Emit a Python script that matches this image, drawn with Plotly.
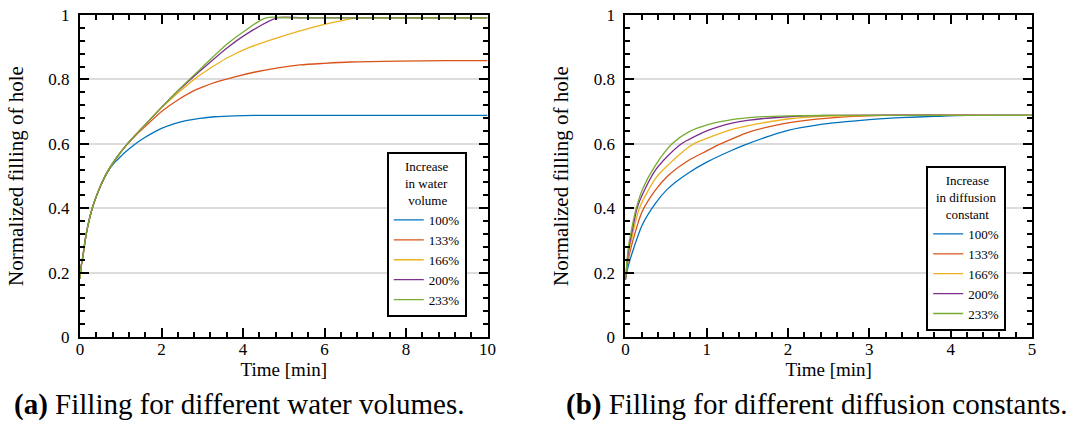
import plotly.graph_objects as go

# ---------------- data ----------------
labels = ["100%", "133%", "166%", "200%", "233%"]
colors = ["#0072BD", "#D95319", "#EDB120", "#7E2F8E", "#77AC30"]

# (a) different water volumes, time in minutes
a_100_t = [0, 0.03, 0.07, 0.15, 0.3, 0.46, 0.6, 0.7, 0.8, 0.93, 1.1, 1.34, 1.57, 1.83, 2.0, 2.32, 2.6, 2.94, 3.3, 3.8, 4.3, 5, 10]
a_100_v = [0.182, 0.22, 0.25, 0.318, 0.40, 0.456, 0.494, 0.517, 0.535, 0.552, 0.573, 0.598, 0.618, 0.637, 0.648, 0.663, 0.672, 0.679, 0.684, 0.687, 0.688, 0.688, 0.688]

a_133_t = [0, 0.03, 0.07, 0.15, 0.3, 0.46, 0.65, 0.91, 1.16, 1.4, 1.67, 2.0, 2.4, 2.85, 3.3, 3.8, 4.3, 4.86, 5.4, 6.0, 6.63, 7.85, 9, 10]
a_133_v = [0.182, 0.22, 0.25, 0.318, 0.40, 0.456, 0.508, 0.559, 0.598, 0.630, 0.662, 0.700, 0.736, 0.768, 0.790, 0.808, 0.823, 0.836, 0.845, 0.850, 0.854, 0.857, 0.858, 0.858]

a_166_t = [0, 0.03, 0.07, 0.15, 0.3, 0.46, 0.65, 0.91, 1.16, 1.59, 2.0, 2.4, 2.77, 2.94, 3.3, 3.63, 4.17, 4.86, 5.4, 6.0, 6.4, 6.79, 7.5, 10]
a_166_v = [0.182, 0.22, 0.25, 0.318, 0.40, 0.456, 0.508, 0.559, 0.600, 0.658, 0.712, 0.758, 0.797, 0.813, 0.843, 0.868, 0.900, 0.930, 0.951, 0.971, 0.982, 0.991, 0.991, 0.991]

a_200_t = [0, 0.03, 0.07, 0.15, 0.3, 0.46, 0.65, 0.91, 1.16, 1.59, 2.0, 2.4, 2.6, 3.0, 3.63, 4.2, 4.84, 5.5, 10]
a_200_v = [0.182, 0.22, 0.25, 0.318, 0.40, 0.456, 0.508, 0.559, 0.600, 0.658, 0.713, 0.764, 0.787, 0.832, 0.900, 0.950, 0.991, 0.991, 0.991]

a_233_t = [0, 0.03, 0.07, 0.15, 0.3, 0.46, 0.65, 0.91, 1.16, 1.59, 2.0, 2.4, 2.6, 3.0, 3.63, 4.1, 4.56, 5.2, 10]
a_233_v = [0.182, 0.22, 0.25, 0.318, 0.40, 0.456, 0.508, 0.559, 0.600, 0.658, 0.713, 0.765, 0.790, 0.838, 0.912, 0.956, 0.991, 0.991, 0.991]

# (b) different diffusion constants, time in minutes
b_100_t = [0, 0.02, 0.04, 0.082, 0.205, 0.369, 0.52, 0.779, 1.0, 1.31, 1.47, 2.0, 2.37, 3.0, 3.38, 3.8, 4.2, 5]
b_100_v = [0.178, 0.205, 0.225, 0.26, 0.347, 0.415, 0.460, 0.510, 0.543, 0.580, 0.597, 0.642, 0.659, 0.675, 0.681, 0.685, 0.688, 0.688]

b_133_t = [0, 0.02, 0.04, 0.082, 0.205, 0.369, 0.52, 0.779, 1.0, 1.13, 1.31, 1.5, 2.0, 2.5, 3.17, 5]
b_133_v = [0.178, 0.215, 0.245, 0.29, 0.389, 0.456, 0.500, 0.549, 0.578, 0.595, 0.615, 0.635, 0.665, 0.680, 0.688, 0.688]

b_166_t = [0, 0.02, 0.04, 0.082, 0.172, 0.369, 0.52, 0.779, 0.84, 1.0, 1.31, 1.5, 2.0, 2.5, 3.0, 5]
b_166_v = [0.178, 0.225, 0.26, 0.311, 0.40, 0.492, 0.533, 0.590, 0.600, 0.617, 0.645, 0.656, 0.677, 0.686, 0.688, 0.688]

b_200_t = [0, 0.02, 0.04, 0.082, 0.143, 0.205, 0.369, 0.52, 0.677, 0.779, 1.0, 1.31, 1.5, 2.0, 2.5, 5]
b_200_v = [0.178, 0.232, 0.272, 0.327, 0.40, 0.44, 0.518, 0.562, 0.598, 0.613, 0.640, 0.664, 0.673, 0.684, 0.688, 0.688]

b_233_t = [0, 0.02, 0.04, 0.082, 0.123, 0.205, 0.369, 0.574, 0.779, 1.025, 1.31, 1.6, 2.0, 2.5, 5]
b_233_v = [0.178, 0.24, 0.285, 0.342, 0.39, 0.456, 0.533, 0.600, 0.637, 0.660, 0.675, 0.683, 0.687, 0.688, 0.688]

a_series = [(a_100_t, a_100_v), (a_133_t, a_133_v), (a_166_t, a_166_v), (a_200_t, a_200_v), (a_233_t, a_233_v)]
b_series = [(b_100_t, b_100_v), (b_133_t, b_133_v), (b_166_t, b_166_v), (b_200_t, b_200_v), (b_233_t, b_233_v)]

FONT = "Liberation Serif"

fig = go.Figure()
for (t, v), lab, c in zip(a_series, labels, colors):
    fig.add_trace(go.Scatter(x=t, y=v, mode="lines", name=lab,
                             line=dict(color=c, width=1.3, shape="spline", smoothing=0.8),
                             xaxis="x", yaxis="y", legend="legend"))
for (t, v), lab, c in zip(b_series, labels, colors):
    fig.add_trace(go.Scatter(x=t, y=v, mode="lines", name=lab,
                             line=dict(color=c, width=1.3, shape="spline", smoothing=0.8),
                             xaxis="x2", yaxis="y2", legend="legend2"))

# plot-area geometry (pixels)
W, H = 1086.0, 427.0
L, R, T, B = 80.0, 1031.8, 14.5, 337.0
PW, PH = R - L, B - T

def px(x):
    return (x - L) / PW

def py(y):
    return (B - y) / PH

def xax(domain, rng, dtick, minor, anchor):
    return dict(domain=domain, range=rng, dtick=dtick, tick0=0, anchor=anchor, automargin=False,
                showline=True, linecolor="black", linewidth=2, mirror="allticks",
                ticks="inside", ticklen=9, tickwidth=2, tickcolor="black",
                minor=dict(ticks="inside", ticklen=5, tickwidth=2, tickcolor="black",
                           dtick=minor, tick0=0, showgrid=False),
                showgrid=False, zeroline=False, ticklabelstandoff=-4,
                tickfont=dict(family=FONT, size=17, color="black"),
                title=dict(text="Time [min]", font=dict(family=FONT, size=19, color="black"), standoff=0))

def yax(domain, anchor):
    return dict(domain=domain, range=[0, 1], dtick=0.2, tick0=0, anchor=anchor, automargin=False,
                showline=True, linecolor="black", linewidth=2, mirror="allticks",
                ticks="inside", ticklen=9, tickwidth=2, tickcolor="black",
                minor=dict(ticks="inside", ticklen=5, tickwidth=2, tickcolor="black",
                           dtick=0.04, tick0=0, showgrid=False),
                showgrid=True, gridcolor="#DCDCDC", gridwidth=2, zeroline=False,
                tickformat="~g", ticklabelstandoff=5,
                tickfont=dict(family=FONT, size=17, color="black"),
                title=dict(text="Normalized filling of hole", font=dict(family=FONT, size=21, color="black"),
                           standoff=19))

legend_common = dict(bgcolor="white", bordercolor="black", borderwidth=2,
                     font=dict(family=FONT, size=13, color="black"),
                     itemwidth=30, xanchor="left", yanchor="top", tracegroupgap=0)

fig.update_layout(
    width=1086, height=427,
    margin=dict(l=L, r=W - R, t=T, b=H - B, autoexpand=False),
    paper_bgcolor="white", plot_bgcolor="white",
    showlegend=True,
    xaxis=xax([0, px(487.5)], [0, 10], 2, 0.4, "y"),
    yaxis=yax([0, 1], "x"),
    xaxis2=xax([px(625.3), 1], [0, 5], 1, 0.2, "y2"),
    yaxis2=yax([0, 1], "x2"),
    legend=dict(legend_common, x=px(386.7), y=py(152),
                title=dict(text="Increase<br>in water<br>&nbsp;volume", side="top center",
                           font=dict(family=FONT, size=13, color="black"))),
    legend2=dict(legend_common, x=px(926), y=py(166),
                 title=dict(text="&nbsp;&nbsp;&nbsp;Increase<br>in diffusion<br>&nbsp;&nbsp;&nbsp;constant", side="top center",
                            font=dict(family=FONT, size=13, color="black"))),
    annotations=[
        dict(text="<b>(a)</b> Filling for different water volumes.", x=px(239), y=py(405),
             xref="paper", yref="paper", showarrow=False, xanchor="center", yanchor="middle",
             font=dict(family=FONT, size=29, color="black")),
        dict(text="<b>(b)</b> Filling for different diffusion constants.", x=px(817), y=py(405),
             xref="paper", yref="paper", showarrow=False, xanchor="center", yanchor="middle",
             font=dict(family=FONT, size=29, color="black")),
    ],
)

fig.write_html("out.html", config={"displayModeBar": False},
               post_script="document.body.style.margin='0px';")
